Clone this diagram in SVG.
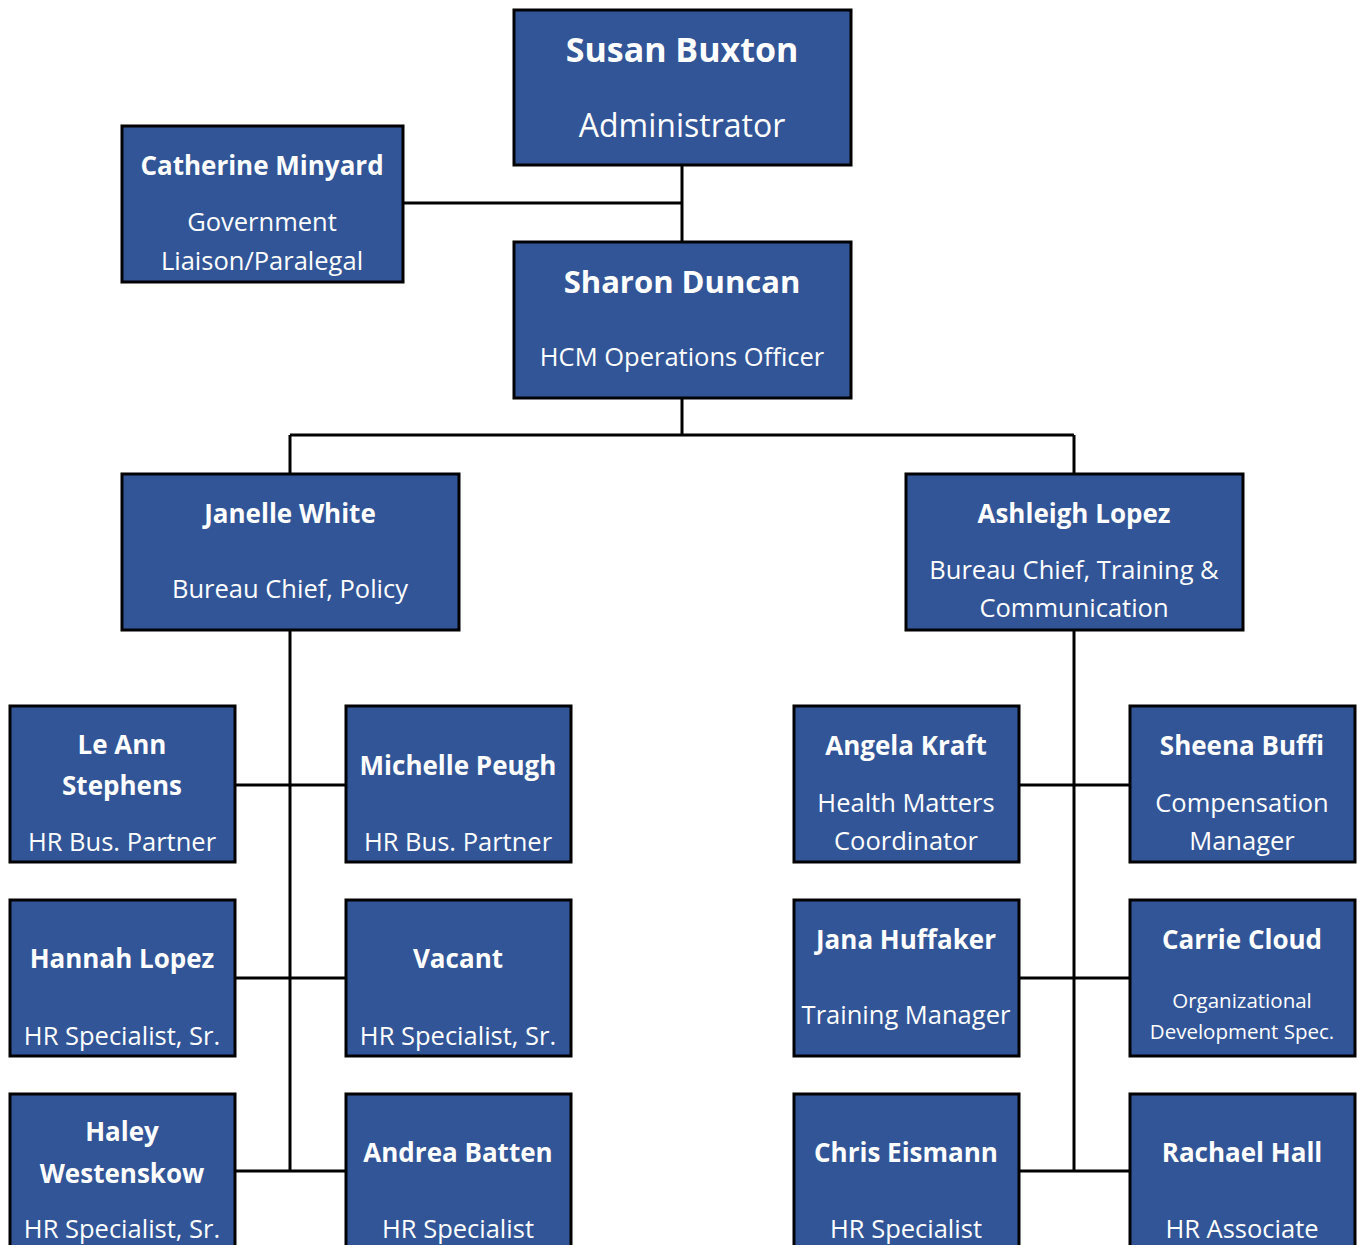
<svg xmlns="http://www.w3.org/2000/svg" width="1357" height="1245" viewBox="0 0 1357 1245">
<style>
.box{fill:#325597;stroke:#000;stroke-width:3}
text{font-family:"Open Sans","Noto Sans",sans-serif;fill:#fff;text-anchor:middle}
.n{font-weight:bold;font-size:26px}
.t{font-size:25.5px}
.nb{font-weight:bold;font-size:34px}
.tb{font-size:32px}
.sm{font-size:20.5px}
.c{stroke:#000;stroke-width:3;fill:none}
</style>
<g id="connectors">
<path class="c" d="M682,165V242M403,203H682M682,398V435M290,435H1074M290,435V474M1074,435V474"/>
<path class="c" d="M290,630V1171M235,785H346M235,978H346M235,1171H346"/>
<path class="c" d="M1074,630V1171M1019,785H1130M1019,978H1130M1019,1171H1130"/>
</g>
<g id="susan"><rect class="box" x="514" y="10" width="337" height="155"/><text class="nb" x="682" y="62">Susan Buxton</text><text class="tb" x="682" y="137">Administrator</text></g>
<g id="catherine"><rect class="box" x="122" y="126" width="281" height="156"/><text class="n" x="262" y="175">Catherine Minyard</text><text class="t" x="262" y="231">Government</text><text class="t" x="262" y="270">Liaison/Paralegal</text></g>
<g id="sharon"><rect class="box" x="514" y="242" width="337" height="156"/><text class="n" x="682" y="293" style="font-size:31px">Sharon Duncan</text><text class="t" x="682" y="366">HCM Operations Officer</text></g>
<g id="janelle"><rect class="box" x="122" y="474" width="337" height="156"/><text class="n" x="290" y="523">Janelle White</text><text class="t" x="290" y="598">Bureau Chief, Policy</text></g>
<g id="ashleigh"><rect class="box" x="906" y="474" width="337" height="156"/><text class="n" x="1074" y="523">Ashleigh Lopez</text><text class="t" x="1074" y="579">Bureau Chief, Training &amp;</text><text class="t" x="1074" y="617">Communication</text></g>
<g id="leann"><rect class="box" x="10" y="706" width="225" height="156"/><text class="n" x="122" y="754">Le Ann</text><text class="n" x="122" y="795">Stephens</text><text class="t" x="122" y="851">HR Bus. Partner</text></g>
<g id="michelle"><rect class="box" x="346" y="706" width="225" height="156"/><text class="n" x="458" y="775">Michelle Peugh</text><text class="t" x="458" y="851">HR Bus. Partner</text></g>
<g id="angela"><rect class="box" x="794" y="706" width="225" height="156"/><text class="n" x="906" y="755">Angela Kraft</text><text class="t" x="906" y="812">Health Matters</text><text class="t" x="906" y="850">Coordinator</text></g>
<g id="sheena"><rect class="box" x="1130" y="706" width="225" height="156"/><text class="n" x="1242" y="755">Sheena Buffi</text><text class="t" x="1242" y="812">Compensation</text><text class="t" x="1242" y="850">Manager</text></g>
<g id="hannah"><rect class="box" x="10" y="900" width="225" height="156"/><text class="n" x="122" y="968">Hannah Lopez</text><text class="t" x="122" y="1045">HR Specialist, Sr.</text></g>
<g id="vacant"><rect class="box" x="346" y="900" width="225" height="156"/><text class="n" x="458" y="968">Vacant</text><text class="t" x="458" y="1045">HR Specialist, Sr.</text></g>
<g id="jana"><rect class="box" x="794" y="900" width="225" height="156"/><text class="n" x="906" y="949">Jana Huffaker</text><text class="t" x="906" y="1024">Training Manager</text></g>
<g id="carrie"><rect class="box" x="1130" y="900" width="225" height="156"/><text class="n" x="1242" y="949">Carrie Cloud</text><text class="sm" x="1242" y="1008">Organizational</text><text class="sm" x="1242" y="1039">Development Spec.</text></g>
<g id="haley"><rect class="box" x="10" y="1094" width="225" height="160"/><text class="n" x="122" y="1141">Haley</text><text class="n" x="122" y="1183">Westenskow</text><text class="t" x="122" y="1238">HR Specialist, Sr.</text></g>
<g id="andrea"><rect class="box" x="346" y="1094" width="225" height="160"/><text class="n" x="458" y="1162">Andrea Batten</text><text class="t" x="458" y="1238">HR Specialist</text></g>
<g id="chris"><rect class="box" x="794" y="1094" width="225" height="160"/><text class="n" x="906" y="1162">Chris Eismann</text><text class="t" x="906" y="1238">HR Specialist</text></g>
<g id="rachael"><rect class="box" x="1130" y="1094" width="225" height="160"/><text class="n" x="1242" y="1162">Rachael Hall</text><text class="t" x="1242" y="1238">HR Associate</text></g>
</svg>
